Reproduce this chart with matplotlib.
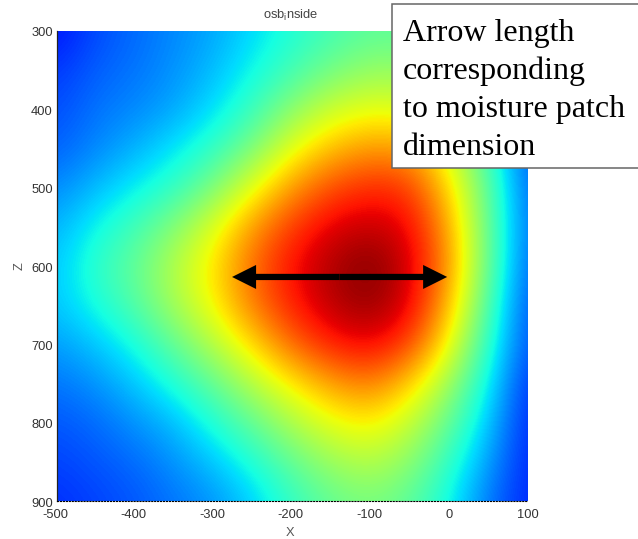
import matplotlib
matplotlib.use("Agg")
import matplotlib.pyplot as plt
from matplotlib.patches import Rectangle, FancyArrowPatch
from matplotlib.transforms import ScaledTranslation

x_centers = [-500, -450, -400, -350, -300, -250, -200, -150, -100, -50, 0, 50, 100]
z_centers = [300, 350, 400, 450, 500, 550, 600, 650, 700, 750, 800, 850, 900]
moisture = [
    [.14, .20, .23, .26, .29, .34, .39, .43, .46, .46, .42, .33, .20],
    [.18, .22, .24, .27, .31, .37, .43, .49, .53, .53, .47, .35, .20],
    [.20, .24, .26, .29, .345, .42, .52, .60, .63, .62, .53, .38, .20],
    [.22, .26, .30, .35, .41, .50, .63, .71, .75, .74, .61, .42, .21],
    [.26, .31, .36, .41, .50, .63, .75, .83, .87, .85, .68, .46, .22],
    [.30, .37, .43, .51, .62, .75, .85, .92, .94, .91, .73, .47, .23],
    [.32, .41, .47, .57, .67, .80, .90, .96, 1.0, .93, .75, .47, .22],
    [.32, .38, .45, .55, .65, .78, .88, .95, .98, .92, .71, .44, .20],
    [.28, .32, .38, .47, .57, .68, .80, .88, .91, .84, .64, .40, .20],
    [.24, .27, .32, .39, .47, .57, .66, .74, .78, .69, .54, .36, .17],
    [.21, .23, .27, .31, .39, .47, .56, .63, .66, .59, .47, .32, .16],
    [.19, .21, .23, .27, .32, .39, .47, .54, .57, .52, .41, .28, .16],
    [.17, .19, .21, .24, .27, .33, .41, .47, .50, .46, .37, .24, .16],
]
x_ticks = [-500, -400, -300, -200, -100, 0, 100]
z_ticks = [300, 400, 500, 600, 700, 800, 900]
arrow_left, arrow_right, arrow_z = -277, -3, 614
note_lines = ["Arrow length", "corresponding", "to moisture patch", "dimension"]

W, H = 638, 539
plt.rcParams['font.family'] = ['Liberation Sans', 'DejaVu Sans']
plt.rcParams['mathtext.default'] = 'regular'
plt.rcParams['axes.unicode_minus'] = False
fig = plt.figure(figsize=(W / 100, H / 100), dpi=100, facecolor='white')
ax = fig.add_axes([57 / W, 1 - 501 / H, (528 - 57) / W, (501 - 31) / H])

ax.imshow(moisture, cmap='jet', vmin=0, vmax=1, aspect='auto', interpolation='bicubic',
          extent=(x_centers[0] - 25, x_centers[-1] + 25, z_centers[-1] + 25, z_centers[0] - 25))
ax.set_xlim(-500, 100)
ax.set_ylim(900, 300)
ax.set_xticks(x_ticks)
ax.set_yticks(z_ticks)
ax.tick_params(labelsize=9.3, colors='#333333', length=0)
ax.tick_params(axis='x', pad=6)
ax.tick_params(axis='y', pad=3)
for s in ('top', 'right'):
    ax.spines[s].set_visible(False)
ax.spines['left'].set_linewidth(0.9)
ax.spines['left'].set_color('#222222')
ax.spines['bottom'].set_linewidth(0.8)
ax.spines['bottom'].set_linestyle(':')
ax.set_xlabel('X', fontsize=9.3, color='#555555', labelpad=4, x=0.495)
ax.set_ylabel('Z', fontsize=9.3, color='#555555', labelpad=4)
ax.set_title(r'osb$_{i}$nside', fontsize=9.3, color='#444444', pad=9, x=0.497)

fig.canvas.draw()
for lbl, tick in zip(ax.get_xticklabels(), x_ticks):
    if tick < 0:
        lbl.set_transform(lbl.get_transform() + ScaledTranslation(-2 / 100, 0, fig.dpi_scale_trans))
for lbl in ax.get_yticklabels():
    lbl.set_transform(lbl.get_transform() + ScaledTranslation(0, -1 / 100, fig.dpi_scale_trans))

mid = (arrow_left + arrow_right) / 2
for end in (arrow_left, arrow_right):
    ax.add_patch(FancyArrowPatch(
        (mid, arrow_z), (end, arrow_z),
        arrowstyle='simple,head_length=1.73,head_width=1.73,tail_width=0.45',
        mutation_scale=10, color='black', lw=0, shrinkA=0, shrinkB=0, zorder=5))

fig.add_artist(Rectangle((392 / W, 1 - 168 / H), 260 / W, 164 / H, transform=fig.transFigure,
                         facecolor='white', edgecolor='#666666', lw=1.1, zorder=6))
for i, line in enumerate(note_lines):
    fig.text(403 / W, 1 - (41 + 38 * i) / H, line, family='Liberation Serif', fontsize=23,
             color='black', va='baseline', ha='left', zorder=7)

fig.savefig('out.png', dpi=100)
